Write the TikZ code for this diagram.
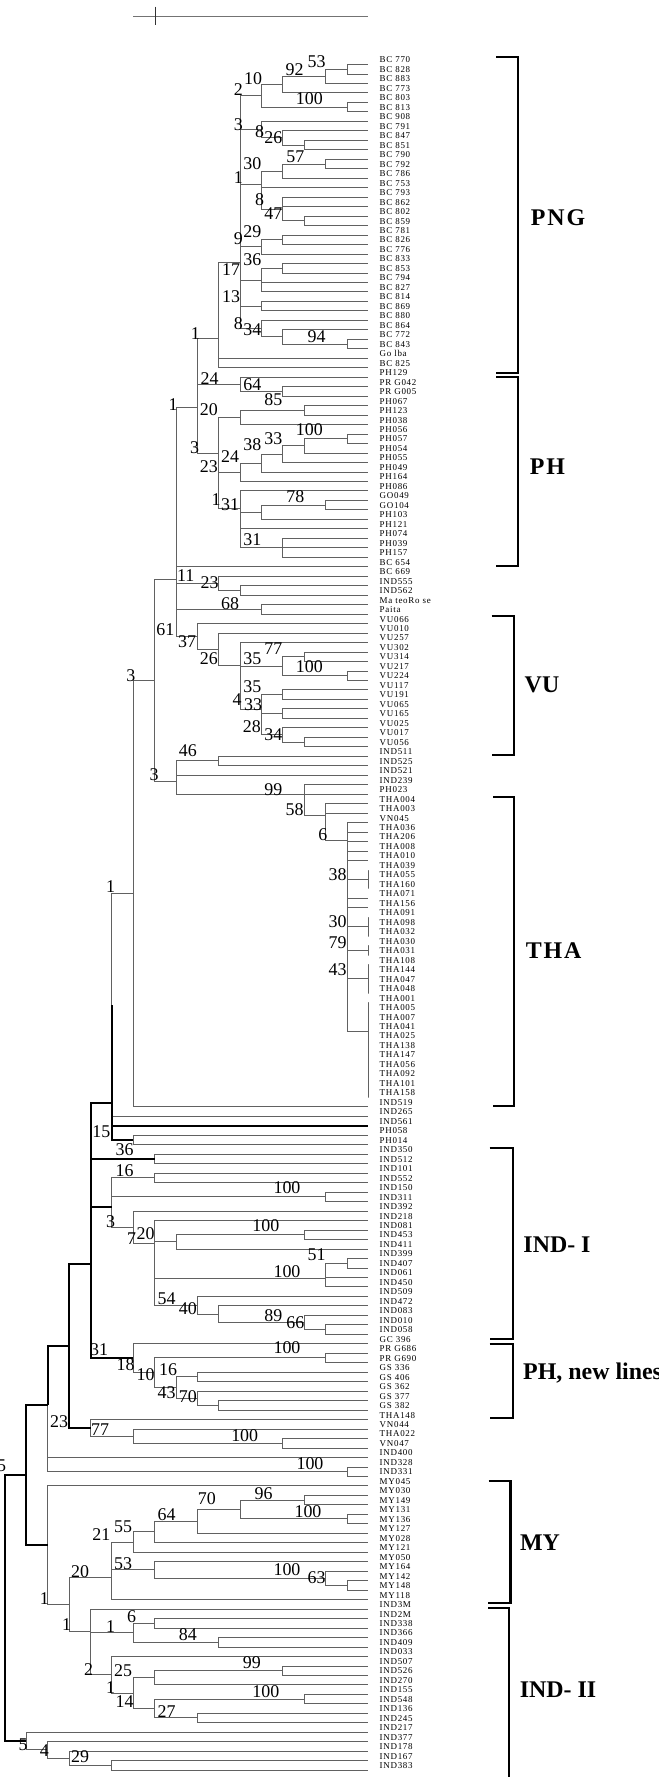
\documentclass[tikz,border=0pt]{standalone}
\usepackage{fontspec}
\setmainfont{Liberation Serif}
\newfontfamily\lblfont[LetterSpace=8]{Liberation Serif}
\newfontfamily\grpfont[LetterSpace=8]{Liberation Serif}
\newcommand\nd[3]{\coordinate (#1) at ({5.06+21.37*#2},#3);}
\newcommand\kids[2]{\foreach \cc in {#2}{\draw[br] (#1) |- (\cc);}}
\newcommand\tkids[2]{\foreach \cc in {#2}{\draw[thk] (#1) |- (\cc);}}
\newcommand\bsv[3]{\node[bsn] (#1) at (#2) {#3};}
\begin{document}
\begin{tikzpicture}[x=1bp,y=-1bp,
  br/.style={draw=black!62,line width=0.9bp},
  thk/.style={draw=black,line width=2bp},
  lbl/.style={font=\lblfont\fontsize{9}{9}\selectfont,anchor=west,inner sep=0pt},
  bsn/.style={font=\fontsize{18}{18}\selectfont,inner sep=0pt},
  grp/.style={font=\grpfont\bfseries\fontsize{24}{24}\selectfont,inner sep=0pt},
  brk/.style={draw=black,line width=2.2bp}]
\fill[white] (0,0) rectangle (659,1777);
\useasboundingbox (0,0) rectangle (659,1777);
% scale bar
\coordinate (sb1) at (133,16); \coordinate (sb2) at (368.4,16);
\coordinate (tk1) at (155,6.7); \coordinate (tk2) at (155,25);
\draw[draw=black!55,line width=1bp] (sb1) -- (sb2);
\draw[draw=black!80,line width=1bp] (tk1) -- (tk2);
% leaves
\foreach \nm [count=\i] in {BC 770, BC 828, BC 883, BC 773, BC 803, BC 813, BC 908, BC 791, BC 847, BC 851, BC 790, BC 792, BC 786, BC 753, BC 793, BC 862, BC 802, BC 859, BC 781, BC 826, BC 776, BC 833, BC 853, BC 794, BC 827, BC 814, BC 869, BC 880, BC 864, BC 772, BC 843, Go lba, BC 825, PH129, PR G042, PR G005, PH067, PH123, PH038, PH056, PH057, PH054, PH055, PH049, PH164, PH086, GO049, GO104, PH103, PH121, PH074, PH039, PH157, BC 654, BC 669, IND555, IND562, Ma teoRo se, Paita, VU066, VU010, VU257, VU302, VU314, VU217, VU224, VU117, VU191, VU065, VU165, VU025, VU017, VU056, IND511, IND525, IND521, IND239, PH023, THA004, THA003, VN045, THA036, THA206, THA008, THA010, THA039, THA055, THA160, THA071, THA156, THA091, THA098, THA032, THA030, THA031, THA108, THA144, THA047, THA048, THA001, THA005, THA007, THA041, THA025, THA138, THA147, THA056, THA092, THA101, THA158, IND519, IND265, IND561, PH058, PH014, IND350, IND512, IND101, IND552, IND150, IND311, IND392, IND218, IND081, IND453, IND411, IND399, IND407, IND061, IND450, IND509, IND472, IND083, IND010, IND058, GC 396, PR G686, PR G690, GS 336, GS 406, GS 362, GS 377, GS 382, THA148, VN044, THA022, VN047, IND400, IND328, IND331, MY045, MY030, MY149, MY131, MY136, MY127, MY028, MY121, MY050, MY164, MY142, MY148, MY118, IND3M, IND2M, IND338, IND366, IND409, IND033, IND507, IND526, IND270, IND155, IND548, IND136, IND245, IND217, IND377, IND178, IND167, IND383}{
  \coordinate (l\i) at (368.35,{64.5+(\i-1)*9.476});
  \node[lbl] (t\i) at (379.5,{60+(\i-1)*9.476}) {\nm};
}
% internal nodes
\nd{n1}{16}{69.25}\nd{n2}{15}{76.4}\nd{n3}{13}{84.6}\nd{n4}{16}{107.2}\nd{n5}{12}{95.9}
\nd{n6}{14}{145.05}\nd{n7}{13}{137.9}\nd{n8}{12}{129.7}\nd{n9}{15}{164.05}\nd{n10}{13}{171.1}
\nd{n11}{14}{220.85}\nd{n12}{13}{209}\nd{n13}{12}{198.35}\nd{n14}{12}{184.7}\nd{n15}{13}{239.8}
\nd{n16}{12}{246.9}\nd{n17}{13}{268.2}\nd{n18}{12}{280}\nd{n20}{12}{306.15}\nd{n21}{16}{344.05}
\nd{n22}{13}{336.9}\nd{n23}{12}{328.6}\nd{nX}{11}{262}\nd{nP}{10}{338.8}
\nd{n25}{13}{391.35}\nd{n26}{11}{384.3}\nd{n27}{14}{410.35}\nd{n28}{11}{417.5}\nd{n29}{16}{438.75}
\nd{n30}{14}{445.9}\nd{n31}{13}{454.15}\nd{n32}{12}{463}\nd{n33}{11}{472.2}\nd{n34}{15}{505.1}
\nd{n35}{12}{512.2}\nd{n36}{13}{547.7}\nd{n37}{11}{508.1}\nd{n38}{10}{453.8}\nd{nQ}{9}{407.6}
\nd{nK}{8}{579.1}\nd{n39}{11}{590.35}\nd{n40}{10}{583.3}\nd{n41}{12}{609.3}\nd{n42}{14}{656.7}
\nd{n43}{16}{675.65}\nd{n44}{13}{666.2}\nd{n45}{13}{694.55}\nd{n46}{13}{713.55}\nd{n47}{14}{741.95}
\nd{n48}{13}{734.9}\nd{n49b}{12}{724.2}\nd{n49}{12}{709.4}\nd{n50}{11}{665.2}\nd{n51}{10}{649.1}
\nd{n52}{9}{636.3}\nd{n54}{10}{760.9}\nd{n58}{17}{879.4}\nd{n59}{17}{926.7}\nd{n60}{17}{950.45}
\nd{n61}{17}{978.8}\nd{n62}{17}{1031}\nd{n57}{16}{840}\nd{n56}{15}{815.05}\nd{n55}{14}{794.8}
\nd{n53}{8}{781.4}\nd{nR}{7}{680.25}\nd{n63}{6}{893.5}\nd{n64a}{5}{1004.85}\nd{n65}{6}{1139.9}
\nd{n64}{5}{1102.6}\nd{n66}{7}{1158.85}\nd{n67}{7}{1177.85}\nd{n68}{15}{1196.75}\nd{n110}{14}{1234.65}
\nd{n111}{8}{1241.8}\nd{n112}{16}{1263.1}\nd{n113}{15}{1278.5}\nd{n114}{15}{1329.45}\nd{n115}{14}{1322.3}
\nd{n116}{10}{1314}\nd{n117}{9}{1305.1}\nd{n118}{7}{1243.6}\nd{n119}{6}{1227.3}\nd{nM}{5}{1207.3}
\nd{n121}{15}{1357.85}\nd{n122}{9}{1376.75}\nd{n123}{10}{1405.25}\nd{n124}{9}{1398.1}\nd{n125}{8}{1387.4}
\nd{n120}{7}{1372.6}\nd{n70}{6}{1358.1}\nd{nV}{4}{1263.6}\nd{n74}{13}{1443.1}\nd{n73}{6}{1436}
\nd{n72}{4}{1427.7}\nd{n71}{3}{1345.6}\nd{n76}{16}{1471.55}\nd{n75}{2}{1405}\nd{n80}{14}{1499.95}
\nd{n81}{16}{1518.9}\nd{n82}{11}{1509.4}\nd{n83}{9}{1521.25}\nd{n84}{7}{1531.9}\nd{n85}{6}{1542}
\nd{n86}{16}{1585.25}\nd{n87}{15}{1578.1}\nd{n88}{7}{1569.85}\nd{n89}{5}{1577.7}\nd{n90}{7}{1623.15}
\nd{n91}{10}{1642.1}\nd{n92}{6}{1632.6}\nd{n97}{13}{1670.5}\nd{n98}{7}{1677.6}\nd{n99}{14}{1698.95}
\nd{n100}{9}{1717.9}\nd{n101}{7}{1708.4}\nd{n102}{6}{1693}\nd{n94}{5}{1674.65}\nd{n93}{4}{1631.25}
\nd{n95}{3}{1604.5}\nd{n96}{2}{1545.15}\nd{nA}{1}{1475.1}\nd{n103}{5}{1765.25}\nd{n104}{3}{1758.1}
\nd{n105}{2}{1749.85}\nd{n106}{1}{1741}\nd{nroot}{0}{1608}
% edges
\kids{n1}{l1,l2}\kids{n2}{n1,l3}\kids{n3}{n2,l4}\kids{n4}{l5,l6}\kids{n5}{n3,n4}
\kids{n6}{l9,l10}\kids{n7}{l8,n6}\kids{n8}{l7,n7}\kids{n9}{l11,l12}\kids{n10}{n9,l13}
\kids{n11}{l17,l18}\kids{n12}{l15,l16,n11}\kids{n13}{l14,n12}\kids{n14}{n10,n13}
\kids{n15}{l19,l20}\kids{n16}{n15,l21}\kids{n17}{l22,l23}\kids{n18}{n17,l24,l25}
\kids{n20}{l26,l27}\kids{n21}{l30,l31}\kids{n22}{l29,n21}\kids{n23}{l28,n22}
\kids{nX}{n5,n8,n14,n16,n18,n20,n23}\kids{nP}{nX,l32,l33}
\kids{n25}{l35,l36}\kids{n26}{l34,n25}\kids{n27}{l37,l38}\kids{n28}{n27,l39}
\kids{n29}{l40,l41}\kids{n30}{n29,l42}\kids{n31}{n30,l43}\kids{n32}{n31,l44}\kids{n33}{n32,l45}
\kids{n34}{l47,l48}\kids{n35}{n34,l49}\kids{n36}{l51,l52,l53}\kids{n37}{l46,n35,l50,n36}
\kids{n38}{n28,n33,n37}\kids{nQ}{nP,n26,n38}
\kids{n39}{l56,l57}\kids{n40}{l55,n39}\kids{n41}{l58,l59}
\kids{n42}{l63,l64}\kids{n43}{l65,l66}\kids{n44}{n42,n43}\kids{n45}{l67,l68}\kids{n46}{l69,l70}
\kids{n47}{l72,l73}\kids{n48}{l71,n47}\kids{n49b}{n46,n48}\kids{n49}{n45,n49b}
\kids{n50}{l62,n44,n49}\kids{n51}{l61,n50}\kids{n52}{l60,n51}
\kids{nK}{nQ,l54,n40,n41,n52}
\kids{n54}{l74,l75}\kids{n58}{l86,l87,l88}\kids{n59}{l91,l92,l93}\kids{n60}{l94,l95}
\kids{n61}{l96,l97,l98,l99}\kids{n62}{l100,l101,l102,l103,l104,l105,l106,l107,l108,l109,l110}
\kids{n57}{l81,l82,l83,l84,l85,n58,l89,l90,n59,n60,n61,n62}
\kids{n56}{l79,l80,n57}\kids{n55}{l77,l78,n56}\kids{n53}{n54,l76,n55}
\kids{nR}{nK,n53}\kids{n63}{nR,l111}\kids{n64a}{n63,l112}\kids{n65}{l114,l115}
\tkids{n64}{n64a,l113,n65}
\kids{n66}{l116,l117}\kids{n67}{l118,l119}\kids{n68}{l120,l121}
\kids{n110}{l124,l125}\kids{n111}{n110,l126}\kids{n112}{l127,l128}\kids{n113}{n112,l129,l130}
\kids{n114}{l134,l135}\kids{n115}{l133,n114}\kids{n116}{l132,n115}\kids{n117}{l131,n116}
\kids{n118}{l123,n111,n113,n117}\kids{n119}{l122,n118}\kids{nM}{n67,n68,n119}
\kids{n121}{l137,l138}\kids{n122}{l139,l140}\kids{n123}{l142,l143}\kids{n124}{l141,n123}
\kids{n125}{n122,n124}\kids{n120}{n121,n125}\kids{n70}{l136,n120}
\tkids{nV}{n64,n66,nM,n70}
\kids{n74}{l146,l147}\kids{n73}{l145,n74}\kids{n72}{l144,n73}
\tkids{n71}{nV,n72}
\kids{n76}{l149,l150}\kids{n75}{l148,n76}\tkids{n75}{n71}
\kids{n80}{l152,l153}\kids{n81}{l154,l155}\kids{n82}{n80,n81}\kids{n83}{n82,l156}
\kids{n84}{n83,l157}\kids{n85}{n84,l158}\kids{n86}{l161,l162}\kids{n87}{l160,n86}
\kids{n88}{l159,n87}\kids{n89}{n85,n88,l163}\kids{n90}{l165,l166}\kids{n91}{l167,l168}
\kids{n92}{n90,n91}\kids{n97}{l170,l171}\kids{n98}{n97,l172}\kids{n99}{l173,l174}
\kids{n100}{l175,l176}\kids{n101}{n99,n100}\kids{n102}{n98,n101}\kids{n94}{l169,n102}
\kids{n93}{l164,n92,n94}\kids{n95}{n89,n93}\kids{n96}{l151,n95}
\tkids{nA}{n75,n96}
\kids{n103}{l180,l181}\kids{n104}{l179,n103}\kids{n105}{l178,n104}\kids{n106}{l177,n105}
\tkids{nroot}{nA,n106}
% bootstrap values
\bsv{b1}{316.5,61.7}{53}\bsv{b2}{294.5,70}{92}\bsv{b3}{253.2,79}{10}\bsv{b4}{238.4,90}{2}
\bsv{b5}{309.3,99}{100}\bsv{b6}{238.4,125}{3}\bsv{b7}{259.5,131.7}{8}\bsv{b8}{273.4,137.3}{26}
\bsv{b9}{295.4,156.7}{57}\bsv{b10}{252.3,163.3}{30}\bsv{b11}{238.4,177.3}{1}\bsv{b12}{259.5,200}{8}
\bsv{b13}{273.4,213.3}{47}\bsv{b14}{238.4,238.3}{9}\bsv{b15}{252.3,231.7}{29}\bsv{b16}{252.3,260}{36}
\bsv{b17}{231.2,270}{17}\bsv{b18}{231.2,296.7}{13}\bsv{b19}{238.4,323.3}{8}\bsv{b20}{252.3,330}{34}
\bsv{b21}{316.5,336.7}{94}\bsv{b22}{195.4,333.3}{1}\bsv{b23}{209.7,378.3}{24}\bsv{b24}{252.3,385}{64}
\bsv{b25}{173,405}{1}\bsv{b26}{208.9,410}{20}\bsv{b27}{273.4,400}{85}\bsv{b28}{309.3,430}{100}
\bsv{b29}{273.4,438.3}{33}\bsv{b30}{252.3,445}{38}\bsv{b31}{194.5,448}{3}\bsv{b32}{230,456.7}{24}
\bsv{b33}{208.9,466.7}{23}\bsv{b34}{295.4,496.7}{78}\bsv{b35}{216,500}{1}\bsv{b36}{230,505}{31}
\bsv{b37}{252.3,539.3}{31}\bsv{b38}{185.7,576}{11}\bsv{b39}{209.7,582.7}{23}\bsv{b40}{230,603.3}{68}
\bsv{b41}{165.4,630}{61}\bsv{b42}{187,641.7}{37}\bsv{b43}{273.4,648.3}{77}\bsv{b44}{252.3,658.3}{35}
\bsv{b45}{208.9,658.3}{26}\bsv{b46}{309.3,666.7}{100}\bsv{b47}{130.8,676}{3}\bsv{b48}{252.3,686.7}{35}
\bsv{b49}{237.1,700}{4}\bsv{b50}{253.2,705}{33}\bsv{b51}{251.9,726.7}{28}\bsv{b52}{273.4,735}{34}
\bsv{b53}{187.8,751}{46}\bsv{b54}{154,775}{3}\bsv{b55}{273.4,789.3}{99}\bsv{b56}{294.5,810}{58}
\bsv{b57}{322.8,835}{6}\bsv{b58}{337.6,875}{38}\bsv{b59}{110.5,886.7}{1}\bsv{b60}{337.6,921.7}{30}
\bsv{b61}{337.6,942.7}{79}\bsv{b62}{337.6,970}{43}\bsv{b63}{101.3,1131.7}{15}\bsv{b64}{124.5,1150}{36}
\bsv{b65}{124.5,1170.7}{16}\bsv{b66}{287,1187.3}{100}\bsv{b67}{110.5,1221.7}{3}\bsv{b68}{131.6,1238.3}{7}
\bsv{b69}{145.6,1233.3}{20}\bsv{b70}{265.8,1226}{100}\bsv{b71}{316.5,1255}{51}\bsv{b72}{287,1271.7}{100}
\bsv{b73}{166.7,1298.3}{54}\bsv{b74}{187.8,1308.3}{40}\bsv{b75}{273.4,1316}{89}\bsv{b76}{295.4,1322.7}{66}
\bsv{b77}{99.2,1350}{31}\bsv{b78}{287,1348}{100}\bsv{b79}{125.7,1365}{18}\bsv{b80}{145.6,1375}{10}
\bsv{b81}{168,1370}{16}\bsv{b82}{166.7,1392.7}{43}\bsv{b83}{187.8,1396.7}{70}\bsv{b84}{59,1421.7}{23}
\bsv{b85}{100,1430}{77}\bsv{b86}{244.7,1436}{100}\bsv{b87}{310,1463.3}{100}\bsv{b88}{1.5,1466}{5}
\bsv{b89}{263.7,1493.3}{96}\bsv{b90}{206.8,1499}{70}\bsv{b91}{308,1511.7}{100}\bsv{b92}{166.7,1515}{64}
\bsv{b93}{123.2,1526.7}{55}\bsv{b94}{101.3,1535}{21}\bsv{b95}{123.2,1563.3}{53}\bsv{b96}{287,1570}{100}
\bsv{b97}{316.5,1577.3}{63}\bsv{b98}{80.2,1571.7}{20}\bsv{b99}{44.3,1598.3}{1}\bsv{b100}{131.6,1616.7}{6}
\bsv{b101}{66.7,1625}{1}\bsv{b102}{110.5,1626.7}{1}\bsv{b103}{187.8,1635}{84}\bsv{b104}{251.9,1662.7}{99}
\bsv{b105}{88.6,1670}{2}\bsv{b106}{123.2,1671}{25}\bsv{b107}{110.5,1687.3}{1}\bsv{b108}{265.8,1691.7}{100}
\bsv{b109}{124.5,1701.7}{14}\bsv{b110}{166.7,1711.7}{27}\bsv{b111}{23.2,1744.3}{5}\bsv{b112}{44.3,1751}{4}
\bsv{b113}{80.2,1756.7}{29}
% group brackets
\draw[brk] (496,57.3) -- (518,57.3) -- (518,372.7) -- (496,372.7);
\draw[brk] (496,377.3) -- (518,377.3) -- (518,566) -- (496,566);
\draw[brk] (491.5,616) -- (514,616) -- (514,755) -- (491.5,755);
\draw[brk] (493,796.7) -- (514,796.7) -- (514,1106) -- (493,1106);
\draw[brk] (489.5,1147.7) -- (512.7,1147.7) -- (512.7,1339.3) -- (489.5,1339.3);
\draw[brk] (489.5,1344) -- (512.7,1344) -- (512.7,1418.3) -- (489.5,1418.3);
\draw[brk] (488.6,1480.7) -- (510.5,1480.7) -- (510.5,1603.3) -- (488,1603.3);
\draw[brk] (488,1608.3) -- (509,1608.3) -- (509,1780);
\node[grp] (gPNG) at (558,218) {PNG};
\node[grp] (gPH) at (547.5,467) {PH};
\node[grp,font=\bfseries\fontsize{24}{24}\selectfont] (gVU) at (542,685) {VU};
\node[grp] (gTHA) at (553.6,951) {THA};
\node[grp,font=\bfseries\fontsize{24}{24}\selectfont] (gIND1) at (557,1245) {IND- I};
\node[grp,font=\bfseries\fontsize{24}{24}\selectfont,anchor=west] (gPHn) at (523,1373) {PH, new lines};
\node[grp,font=\bfseries\fontsize{24}{24}\selectfont] (gMY) at (540,1543) {MY};
\node[grp,font=\bfseries\fontsize{24}{24}\selectfont] (gIND2) at (558,1690) {IND- II};
\end{tikzpicture}
\end{document}
